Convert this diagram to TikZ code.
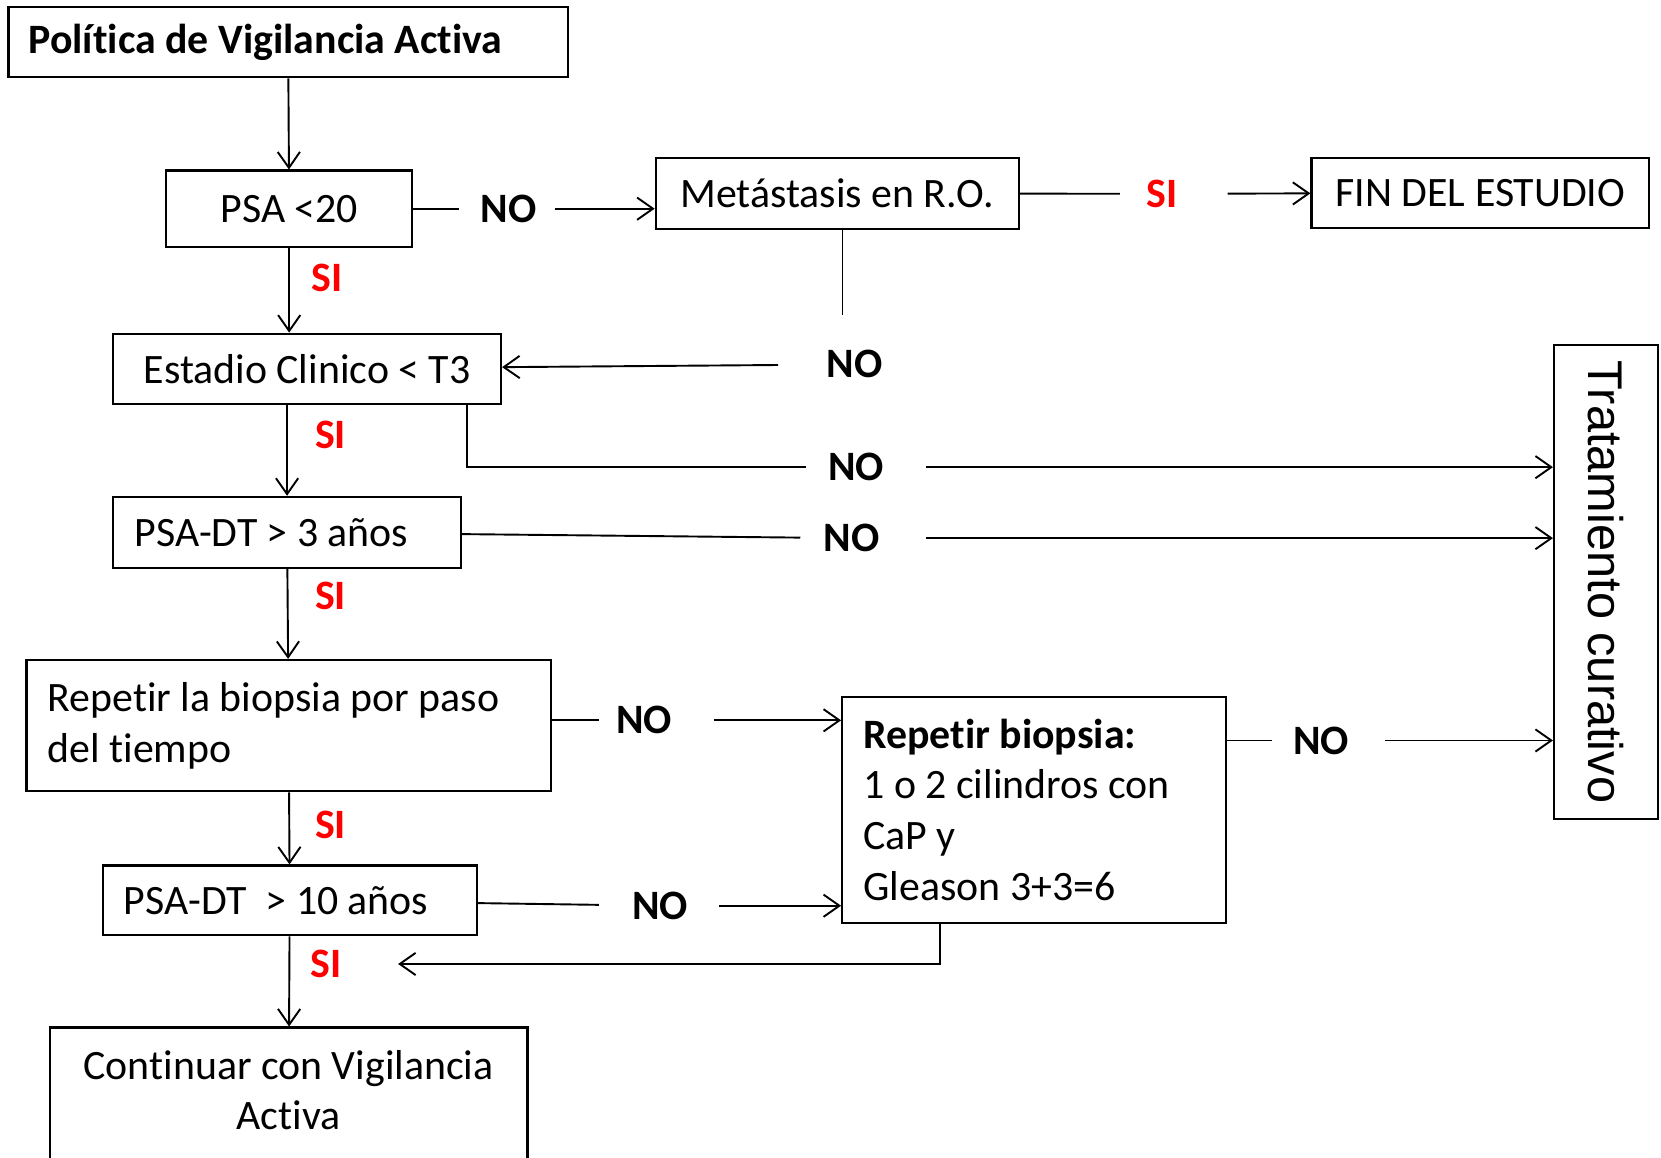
\documentclass[tikz,border=0pt]{standalone}
\usepackage{fontspec}
\setmainfont{Carlito}[Ligatures=CommonOff]
\newfontfamily\arialfont{Liberation Sans}
\usetikzlibrary{arrows.meta}

\newcommand{\letra}{\fontsize{39.5}{48}\selectfont}
\tikzstyle{caja} = [rectangle, draw, line width=2pt, inner sep=0pt, text centered, font=\letra]
\tikzstyle{etiq} = [inner sep=0pt, font=\letra\bfseries]
\tikzstyle{si} = [etiq, text=red]
\tikzstyle{linea} = [line width=1.8pt]
\tikzstyle{flecha} = [->, line width=1.8pt]

\begin{document}
\begin{tikzpicture}[x=1pt, y=-1pt, >={Straight Barb[length=15pt,width=21pt]}]
		\clip (0,0) rectangle (1568,1093);
		% Cajas
		\node[caja, text width=490pt, align=flush left, inner xsep=19pt, minimum height=66pt, font=\letra\bfseries] (politica) at (272,40) {Política de Vigilancia Activa};
		\node[caja, minimum width=232pt, minimum height=72pt] (psa) at (273,197) {PSA <20};
		\node[caja, minimum width=343pt, minimum height=67pt] (meta) at (790.5,182.5) {Metástasis en R.O.};
		\node[caja, minimum width=319pt, minimum height=66pt] (fin) at (1397.5,182) {FIN DEL ESTUDIO};
		\node[caja, minimum width=366pt, minimum height=66pt] (estadio) at (290,348) {Estadio Clinico < T3};
		\node[caja, text width=288pt, align=flush left, inner xsep=20pt, minimum height=67pt] (dt3) at (271,502.5) {PSA-DT > 3 años};
		\node[caja, text width=455pt, align=flush left, inner xsep=20pt, minimum height=124pt] (repetir) at (272.5,685) {Repetir la biopsia por paso\\del tiempo};
		\node[caja, text width=313pt, align=flush left, inner xsep=20pt, minimum height=66pt] (dt10) at (273.5,850) {PSA-DT\ \ > 10 años};
		\node[caja, text width=411pt, inner xsep=20pt, minimum height=134pt, align=flush center] (continuar) at (272.5,1037) {Continuar con Vigilancia\\Activa\\[-32pt]\mbox{}};
		\node[caja, text width=322pt, align=flush left, inner xsep=20pt, minimum height=213pt] (biopsia) at (976,764.5) {\textbf{Repetir biopsia:}\\1 o 2 cilindros con\\CaP y\\Gleason 3+3=6};
		\node[caja, rotate=-90, minimum width=447pt, minimum height=98pt, font=\arialfont\fontsize{46}{50}\selectfont] (tratamiento) at (1516,549.5) {Tratamiento curativo};
		% Respuestas
		\node[etiq] (noA) at (480,197) {NO};
		\node[si] (siA) at (1097,183) {SI};
		\node[etiq] (noB) at (807,344) {NO};
		\node[si] (siB) at (309,262) {SI};
		\node[si] (siC) at (312,411) {SI};
		\node[etiq] (noC) at (808,441) {NO};
		\node[etiq] (noD) at (804,508) {NO};
		\node[si] (siD) at (312,563) {SI};
		\node[etiq] (noE) at (608,680) {NO};
		\node[si] (siE) at (312,779) {SI};
		\node[etiq] (noF) at (623,855) {NO};
		\node[si] (siF) at (308,910) {SI};
		\node[etiq] (noG) at (1247,699) {NO};
		% Flechas
		\draw[flecha] (politica) -- (psa);
		\draw[linea, shorten >=20pt] (psa) -- (noA);
		\draw[flecha, shorten <=17pt] (noA) -- (noA -| meta.west);
		\draw[linea, shorten >=25pt] (meta) -- (siA);
		\draw[flecha, shorten <=47pt] (siA) -- (fin);
		\draw[linea, line width=1pt] ([xshift=4.5pt]meta.south) -- ++(0,80);
		\draw[flecha, shorten <=46pt] (noB) -- (estadio);
		\draw[flecha] (psa.south) -- (psa.south |- estadio.north);
		\draw[flecha] (dt3.north |- estadio.south) -- (dt3.north);
		\draw[linea, shorten >=21pt] ([xshift=-33pt]estadio.south east) |- (noC);
		\draw[flecha, shorten <=40pt] (noC) -- (noC -| tratamiento.south);
		\draw[linea, shorten >=22pt] (dt3) -- (noD);
		\draw[flecha, shorten <=44pt] (noD) -- (noD -| tratamiento.south);
		\draw[flecha] (dt3) -- (repetir);
		\draw[linea, shorten >=16pt] (noE -| repetir.east) -- (noE);
		\draw[flecha, shorten <=39pt] (noE) -- (noE -| biopsia.west);
		\draw[flecha] (repetir) -- (dt10);
		\draw[linea, shorten >=31pt] (dt10) -- (noF);
		\draw[flecha, shorten <=29pt] (noF) -- (noF -| biopsia.west);
		\draw[flecha] (dt10) -- (continuar);
		\draw[flecha, shorten >=53pt] ([xshift=-89pt]biopsia.south) |- (siF);
		\draw[linea, shorten >=20pt] (noG -| biopsia.east) -- (noG);
		\draw[flecha, shorten <=34pt] (noG) -- (noG -| tratamiento.south);
	\end{tikzpicture}
\end{document}
